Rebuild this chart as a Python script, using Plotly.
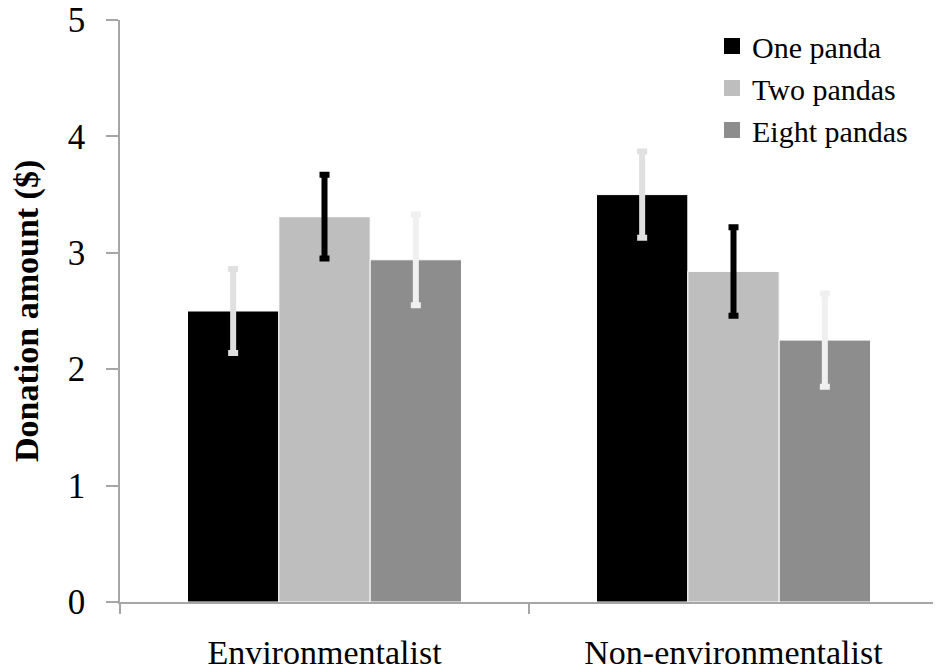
import plotly.graph_objects as go

categories = ["Environmentalist", "Non-environmentalist"]
series_names = ["One panda", "Two pandas", "Eight pandas"]
one_panda = [2.50, 3.50]
two_pandas = [3.31, 2.84]
eight_pandas = [2.94, 2.25]
err_one = [0.36, 0.37]
err_two = [0.36, 0.38]
err_eight = [0.39, 0.40]
y_ticks = [0, 1, 2, 3, 4, 5]

colors = ["#000000", "#bebebe", "#8d8d8d"]
err_colors = ["#e0e0e0", "#000000", "#f0f0f0"]
values = [one_panda, two_pandas, eight_pandas]
errs = [err_one, err_two, err_eight]

FONT = "Liberation Serif"

fig = go.Figure()
for name, vals, err, c, ec in zip(series_names, values, errs, colors, err_colors):
    fig.add_trace(go.Bar(
        x=categories, y=vals, name=name, showlegend=False,
        marker=dict(color=c, line=dict(color="#ffffff", width=1)),
        error_y=dict(type="data", array=err, visible=True, color=ec,
                     thickness=6, width=5),
    ))
# legend entries with larger square swatches
for name, c in zip(series_names, colors):
    fig.add_trace(go.Scatter(
        x=[None], y=[None], mode="markers", name=name,
        marker=dict(symbol="square", size=16, color=c,
                    line=dict(width=0)),
    ))

fig.add_annotation(
    text="<b>Donation amount ($)</b>", textangle=-90,
    xref="paper", yref="paper", x=-0.1137, y=0.5,
    xanchor="center", yanchor="middle", showarrow=False,
    font=dict(family=FONT, size=34, color="#000000"),
)

fig.update_layout(
    width=941, height=671,
    margin=dict(l=112, r=11, t=12, b=77),
    paper_bgcolor="white", plot_bgcolor="white",
    barmode="group", bargap=0.33, bargroupgap=0,
    font=dict(family=FONT, color="#000000"),
    showlegend=True,
    legend=dict(x=0.7237, y=1.0, xanchor="left", yanchor="top",
                font=dict(family=FONT, size=30),
                tracegroupgap=0, bgcolor="rgba(0,0,0,0)"),
    xaxis=dict(showline=True, linecolor="#a6a6a6", linewidth=1.5,
               ticks="outside", tickson="boundaries", ticklen=10,
               tickcolor="#a6a6a6", tickwidth=1.5, automargin=False,
               ticklabelstandoff=19,
               tickfont=dict(family=FONT, size=34), showgrid=False),
    yaxis=dict(range=[0, 5], tickvals=y_ticks, showline=True,
               linecolor="#a6a6a6", linewidth=1.5, ticks="outside",
               ticklen=12, tickcolor="#a6a6a6", tickwidth=1.5,
               tickfont=dict(family=FONT, size=35), showgrid=False,
               zeroline=False, ticklabelstandoff=14, automargin=False,
               ticklabeloverflow="allow"),
)

fig.write_html("out.html")
